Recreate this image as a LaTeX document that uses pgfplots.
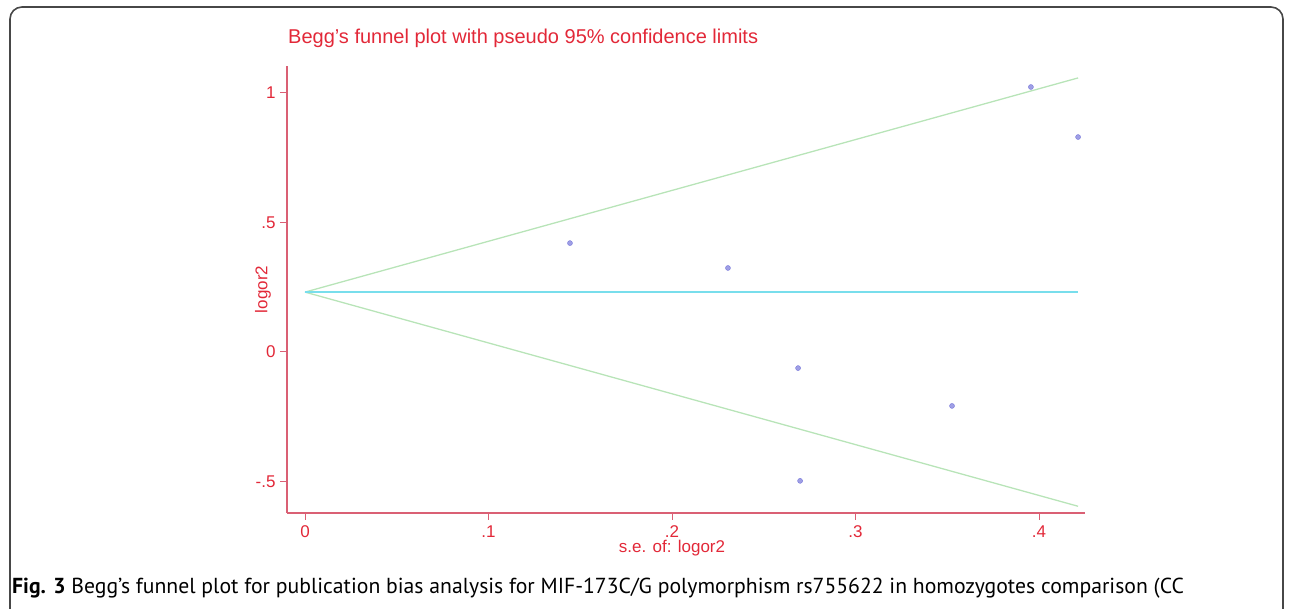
\documentclass[border=0pt]{standalone}
\usepackage{pgfplots}
\pgfplotsset{compat=1.18}
\usepackage{fontspec}
\setmainfont{Liberation Sans}
\newfontfamily\capfont{PT Sans}
\definecolor{txtred}{RGB}{226,40,56}
\definecolor{axred}{RGB}{218,96,116}
\definecolor{ptblue}{RGB}{118,118,218}
\definecolor{fgreen}{RGB}{184,228,184}
\definecolor{pcyan}{RGB}{120,222,236}
\begin{document}
\begin{tikzpicture}[x=1pt,y=1pt]
\useasboundingbox (0,0) rectangle (1290,609);
\begin{scope}
\clip (0,0) rectangle (1290,609);
\draw[line width=1.6pt, color=black!72, rounded corners=12pt] (10,-30) rectangle (1283,602);
\end{scope}
\begin{axis}[
  at={(287pt,96pt)}, anchor=south west,
  scale only axis, width=798pt, height=447pt,
  xmin=-0.00981, xmax=0.42507, ymin=-0.6209, ymax=1.1030,
  axis x line*=bottom, axis y line*=left,
  x axis line style={-}, y axis line style={-},
  axis line style={axred, line width=1.2pt},
  xtick={0,0.1,0.2,0.3,0.4}, xticklabels={0,.1,.2,.3,.4},
  ytick={-0.5,0,0.5,1}, yticklabels={-.5,0,.5,1},
  tick align=outside, major tick length=7pt,
  tick style={axred, line width=1pt},
  ticklabel style={text=txtred, font=\fontsize{17}{20}\selectfont},
  xticklabel style={yshift=-2pt},
  yticklabel style={xshift=-1pt},
  xlabel={s.e. of: logor2}, ylabel={logor2},
  label style={text=txtred, font=\fontsize{17}{20}\selectfont},
  xlabel style={at={(axis description cs:0.4825,0)}, anchor=center, yshift=-35pt},
  ylabel style={at={(axis description cs:-0.030,0.5)}, anchor=center},
  title={Begg's funnel plot with pseudo 95\% confidence limits},
  title style={at={(axis description cs:0,1)}, anchor=base west, yshift=16pt, xshift=1pt, inner sep=0pt, text=txtred, font=\fontsize{20}{24}\selectfont},
  clip=false,
]
\addplot[fgreen, line width=1.3pt] coordinates {(0,0.231) (0.4213,1.057)};
\addplot[fgreen, line width=1.3pt] coordinates {(0,0.231) (0.4213,-0.595)};
\addplot[pcyan, line width=1.8pt] coordinates {(0,0.231) (0.4213,0.231)};
\addplot[only marks, mark=*, mark size=2.5pt, color=ptblue, fill=ptblue!70] coordinates {
(0.1444,0.420)
(0.2305,0.324)
(0.2687,-0.062)
(0.2698,-0.497)
(0.3526,-0.208)
(0.3956,1.022)
(0.4213,0.829)
};
\end{axis}
\node[anchor=base west, inner sep=0pt, font=\capfont\fontsize{21.7}{26}\selectfont] at (12,15) {\textbf{Fig. 3} Begg’s funnel plot for publication bias analysis for MIF-173C/G polymorphism rs755622 in homozygotes comparison (CC};
\end{tikzpicture}
\end{document}
